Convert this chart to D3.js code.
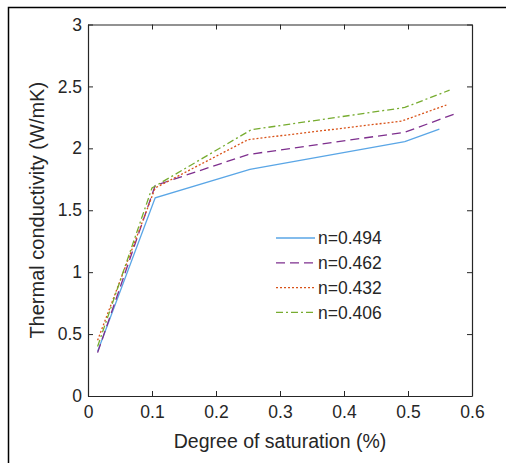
<!DOCTYPE html>
<html>
<head>
    <title>Thermal conductivity</title>
    <script src="https://d3js.org/d3.v7.min.js"></script>
    <style>
        body { margin: 0; background: #fff; }
        text { font-family: "Liberation Sans", Arial, sans-serif; fill: #262626; }
    </style>
</head>
<body>
<script>
    // data
    var seriesNames = ["n=0.494", "n=0.462", "n=0.432", "n=0.406"];
    var xs494 = [0.015, 0.105, 0.253, 0.495, 0.549];
    var ys494 = [0.36, 1.60, 1.83, 2.055, 2.155];
    var xs462 = [0.015, 0.105, 0.25, 0.495, 0.577];
    var ys462 = [0.35, 1.70, 1.95, 2.13, 2.285];
    var xs432 = [0.015, 0.105, 0.25, 0.49, 0.56];
    var ys432 = [0.45, 1.68, 2.07, 2.22, 2.35];
    var xs406 = [0.015, 0.10, 0.255, 0.495, 0.565];
    var ys406 = [0.40, 1.68, 2.15, 2.33, 2.47];
    var xTicks = [0, 0.1, 0.2, 0.3, 0.4, 0.5, 0.6];
    var yTicks = [0, 0.5, 1, 1.5, 2, 2.5, 3];

    var colors = ["#5aa6e6", "#7e2f8e", "#d95319", "#77ac30"];
    var dashes = [null, "9,5", "2,2", "7,3,2,3"];

    var width = 506, height = 463;
    // plot box (top is reserved on window, so use plot* names)
    var plotLeft = 88, plotRight = 472, plotTop = 24.5, plotBottom = 396;

    var svg = d3.select("body").append("svg")
        .attr("width", width)
        .attr("height", height);

    // outer frame of the picture
    svg.append("path")
        .attr("d", "M8.5," + height + "V7.5H" + width)
        .style("fill", "none")
        .style("stroke", "#000")
        .style("stroke-width", 1.5);

    var x = d3.scaleLinear().domain([0, 0.6]).range([plotLeft, plotRight]);
    var y = d3.scaleLinear().domain([0, 3]).range([plotBottom, plotTop]);

    var series = [
        { name: seriesNames[0], xs: xs494, ys: ys494 },
        { name: seriesNames[1], xs: xs462, ys: ys462 },
        { name: seriesNames[2], xs: xs432, ys: ys432 },
        { name: seriesNames[3], xs: xs406, ys: ys406 }
    ];

    // axes, ticks inward on all four sides
    function styleAxis(g) {
        g.select(".domain").style("stroke", "#262626").style("stroke-width", 1.2);
        g.selectAll(".tick line").style("stroke", "#262626");
        g.selectAll(".tick text").style("font-size", "17.5px")
            .style("font-family", "'Liberation Sans', Arial, sans-serif")
            .style("fill", "#262626");
    }

    svg.append("g")
        .attr("transform", "translate(0," + plotBottom + ")")
        .call(d3.axisBottom(x).tickValues(xTicks).tickSize(-5).tickSizeOuter(0).tickPadding(10).tickFormat(d3.format("")))
        .call(styleAxis);
    svg.append("g")
        .attr("transform", "translate(0," + plotTop + ")")
        .call(d3.axisTop(x).tickValues(xTicks).tickSize(-5).tickSizeOuter(0).tickFormat(""))
        .call(styleAxis);
    svg.append("g")
        .attr("transform", "translate(" + plotLeft + ",0)")
        .call(d3.axisLeft(y).tickValues(yTicks).tickSize(-5).tickSizeOuter(0).tickPadding(6).tickFormat(d3.format("")))
        .call(styleAxis);
    svg.append("g")
        .attr("transform", "translate(" + plotRight + ",0)")
        .call(d3.axisRight(y).tickValues(yTicks).tickSize(-5).tickSizeOuter(0).tickFormat(""))
        .call(styleAxis);

    // lines
    var line = d3.line()
        .x(function (d) { return x(d[0]); })
        .y(function (d) { return y(d[1]); });

    series.forEach(function (s, i) {
        var pts = s.xs.map(function (v, j) { return [v, s.ys[j]]; });
        svg.append("path")
            .datum(pts)
            .attr("d", line)
            .style("fill", "none")
            .style("stroke", colors[i])
            .style("stroke-width", 1.3)
            .style("stroke-dasharray", dashes[i]);
    });

    // legend
    var lg = svg.append("g").attr("transform", "translate(276,238)");
    series.forEach(function (s, i) {
        var row = lg.append("g").attr("transform", "translate(0," + (i * 24.8) + ")");
        row.append("line")
            .attr("x1", 0).attr("x2", 39).attr("y1", 0).attr("y2", 0)
            .style("stroke", colors[i])
            .style("stroke-width", 1.3)
            .style("stroke-dasharray", dashes[i]);
        row.append("text")
            .attr("x", 42)
            .attr("y", 0)
            .attr("dy", "0.35em")
            .style("font-size", "17.5px")
            .text(s.name);
    });

    // axis titles
    svg.append("text")
        .attr("x", (plotLeft + plotRight) / 2)
        .attr("y", 448)
        .attr("text-anchor", "middle")
        .style("font-size", "19.5px")
        .text("Degree of saturation (%)");
    svg.append("text")
        .attr("transform", "translate(44," + ((plotTop + plotBottom) / 2) + ") rotate(-90)")
        .attr("text-anchor", "middle")
        .style("font-size", "20px")
        .text("Thermal conductivity (W/mK)");
</script>
</body>
</html>
